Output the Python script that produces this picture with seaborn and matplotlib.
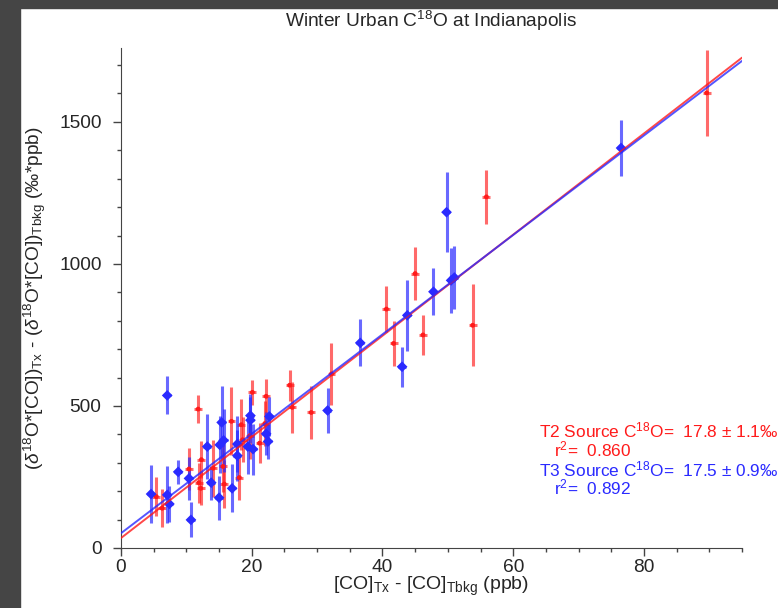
import numpy as np
import pandas as pd
import matplotlib
matplotlib.use("Agg")
import matplotlib.pyplot as plt
from matplotlib.patches import Rectangle
import seaborn as sns

# T2 (red) points: CO excess (ppb), d18O*CO excess, 1-sigma error
t2_x = [89.6, 55.9, 45.0, 53.8, 40.6, 46.2, 41.7, 32.2, 29.1, 26.2, 25.8, 22.2, 20.1,
        21.2, 19.7, 18.4, 18.6, 18.1, 16.9, 15.6, 15.8, 14.1, 12.3, 11.9, 12.2, 11.8,
        10.4, 6.3, 5.4, 22.0]
t2_y = [1602, 1236, 966, 784, 841, 750, 720, 613, 477, 495, 573, 534, 548,
        369, 395, 434, 381, 248, 446, 287, 225, 281, 311, 230, 210, 489,
        278, 140, 181, 438]
t2_err = [150, 95, 92, 144, 80, 70, 80, 110, 92, 90, 55, 60, 45,
          70, 80, 90, 80, 80, 120, 90, 85, 100, 65, 70, 60, 48,
          75, 67, 70, 80]

# T3 (blue) points
t3_x = [76.5, 49.8, 50.5, 51.0, 47.8, 43.8, 43.0, 36.6, 31.6, 22.7, 22.2, 22.5, 20.2,
        19.4, 19.8, 19.8, 17.8, 17.8, 17.0, 15.4, 15.7, 15.1, 15.0, 13.8, 13.2, 10.7,
        10.4, 8.75, 7.4, 7.07, 7.07, 4.6]
t3_y = [1408, 1182, 942, 952, 902, 819, 638, 722, 484, 463, 402, 375, 348,
        357, 466, 450, 366, 325, 210, 442, 379, 363, 177, 230, 357, 99,
        245, 268, 155, 187, 537, 190]
t3_err = [100, 140, 115, 110, 82, 125, 70, 83, 80, 70, 75, 60, 90,
          95, 75, 80, 100, 90, 85, 130, 110, 100, 77, 60, 115, 62,
          76, 42, 64, 100, 67, 102]

# fitted lines
fit_slope = {"T2": 17.8, "T3": 17.5}
fit_icpt = {"T2": 35, "T3": 52}
fit_r2 = {"T2": 0.860, "T3": 0.892}
fit_unc = {"T2": 1.1, "T3": 0.9}

RED = "#ff1a1a"
BLUE = "#2a2aff"

sns.set_style("ticks")
plt.rcParams["font.family"] = ["Liberation Sans", "DejaVu Sans"]
plt.rcParams["mathtext.fontset"] = "custom"
plt.rcParams["mathtext.rm"] = "Liberation Sans"
plt.rcParams["mathtext.it"] = "Liberation Sans:italic"
plt.rcParams["mathtext.bf"] = "Liberation Sans:bold"

fig = plt.figure(figsize=(7.78, 6.08), dpi=100)
ax = fig.add_axes([121 / 778, 60 / 608, 621 / 778, 500 / 608])

df = pd.concat([
    pd.DataFrame({"x": t2_x, "y": t2_y, "err": t2_err, "site": "T2"}),
    pd.DataFrame({"x": t3_x, "y": t3_y, "err": t3_err, "site": "T3"}),
])

for site, col, a in [("T2", RED, 0.65), ("T3", BLUE, 0.7)]:
    d = df[df.site == site]
    ax.errorbar(d.x, d.y, yerr=d.err, xerr=0.6, fmt="none", ecolor=col,
                elinewidth=2.2, alpha=a, capsize=0, zorder=2)

sns.scatterplot(data=df[df.site == "T2"], x="x", y="y", color=RED, marker="o",
                s=12, edgecolor="none", ax=ax, zorder=3)
sns.scatterplot(data=df[df.site == "T3"], x="x", y="y", color=BLUE, marker="D",
                s=30, edgecolor="none", ax=ax, zorder=3)

line_x = np.array([0, 95])
for site, col in [("T2", RED), ("T3", BLUE)]:
    sns.lineplot(x=line_x, y=fit_slope[site] * line_x + fit_icpt[site], color=col,
                 lw=1.4, alpha=0.8, ax=ax, zorder=4)

ax.set_xlim(0, 95)
ax.set_ylim(0, 1760)
ax.set_xticks([0, 20, 40, 60, 80])
ax.set_xticks(np.arange(0, 96, 5), minor=True)
ax.set_yticks([0, 500, 1000, 1500])
ax.set_yticks(np.arange(0, 1760, 100), minor=True)
ax.tick_params(axis="both", which="major", length=6, width=1, labelsize=13.8, color="#444444")
ax.tick_params(axis="both", which="minor", length=3, width=1, color="#444444")
ax.tick_params(axis="y", which="major", pad=8)
ax.tick_params(axis="x", which="major", pad=2)
sns.despine(ax=ax)
for sp in ["left", "bottom"]:
    ax.spines[sp].set_color("#444444")

ax.set_title("Winter Urban C$^{18}$O at Indianapolis", fontsize=13.8, pad=15)
ax.set_xlabel(r"[CO]$_{\mathrm{Tx}}$ - [CO]$_{\mathrm{Tbkg}}$ (ppb)", fontsize=14, labelpad=-1)
ax.set_ylabel(r"($\delta^{18}$O*[CO])$_{\mathrm{Tx}}$ - ($\delta^{18}$O*[CO])$_{\mathrm{Tbkg}}$ (‰*ppb)",
              fontsize=13.8, labelpad=8)

ax.text(64, 388, "T2 Source C$^{18}$O=  %.1f ± %.1f‰" % (fit_slope["T2"], fit_unc["T2"]),
        color=RED, fontsize=12.4, va="baseline", clip_on=False)
ax.text(66.3, 324, "r$^{2}$=  %.3f" % fit_r2["T2"], color=RED, fontsize=12.4, va="baseline", clip_on=False)
ax.text(64, 252, "T3 Source C$^{18}$O=  %.1f ± %.1f‰" % (fit_slope["T3"], fit_unc["T3"]),
        color=BLUE, fontsize=12.4, va="baseline", clip_on=False)
ax.text(66.3, 187, "r$^{2}$=  %.3f" % fit_r2["T3"], color=BLUE, fontsize=12.4, va="baseline", clip_on=False)

# dark frame of the screenshot
fig.patches.append(Rectangle((0, 0), 20 / 778, 1, transform=fig.transFigure, color="#454545", zorder=10))
fig.patches.append(Rectangle((0, 1 - 8 / 608), 1, 8 / 608, transform=fig.transFigure, color="#454545", zorder=10))

fig.savefig("out.png", dpi=100)
